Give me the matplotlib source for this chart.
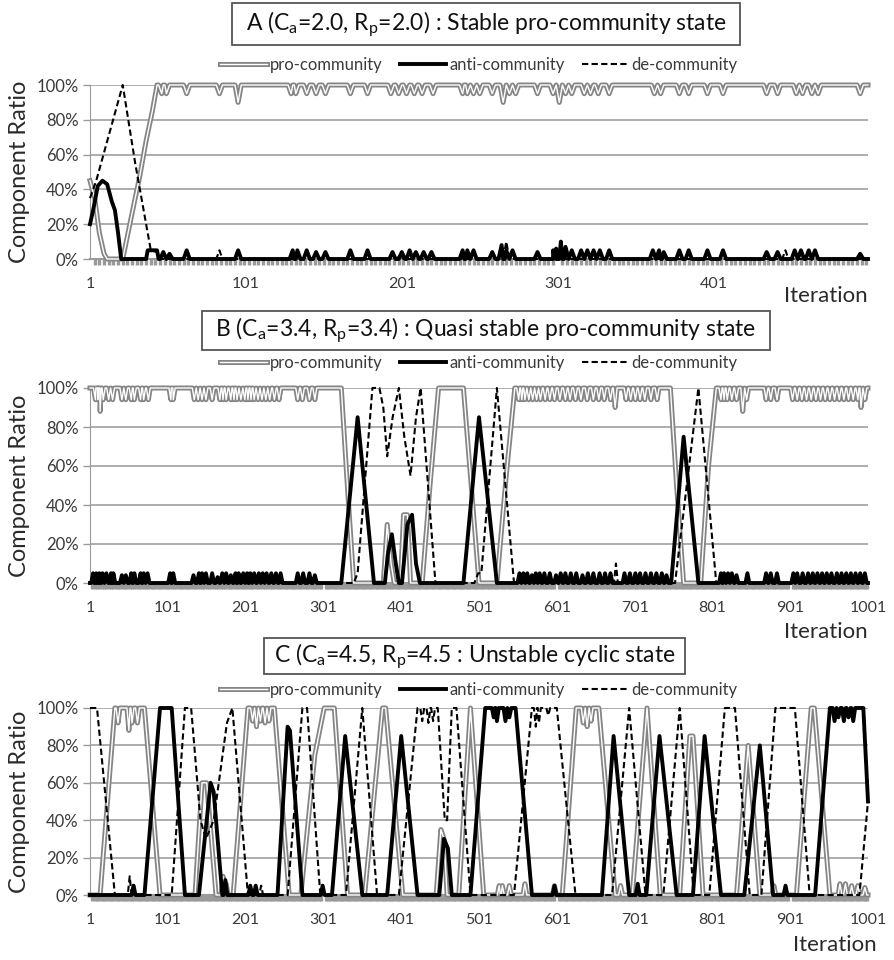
import matplotlib
matplotlib.use('Agg')
import matplotlib.pyplot as plt
from matplotlib.lines import Line2D
from matplotlib.patches import Rectangle
from matplotlib.ticker import MultipleLocator, FuncFormatter
from matplotlib.legend_handler import HandlerTuple

plt.rcParams['font.family'] = ['Lato', 'DejaVu Sans']
plt.rcParams['mathtext.fontset'] = 'custom'
plt.rcParams['mathtext.rm'] = 'Lato'
plt.rcParams['mathtext.it'] = 'Lato:italic'

# ---------------- data (component ratio in %, keypoints) ----------------
titles = [r'A (C$_{\mathrm{a}}$=2.0, R$_{\mathrm{p}}$=2.0) : Stable pro-community state',
          r'B (C$_{\mathrm{a}}$=3.4, R$_{\mathrm{p}}$=3.4) : Quasi stable pro-community state',
          r'C (C$_{\mathrm{a}}$=4.5, R$_{\mathrm{p}}$=4.5 : Unstable cyclic state']
series_names = ['pro-community', 'anti-community', 'de-community']

# panel A : 500 iterations
A_pro = [(1, 45), (4, 35), (7, 15), (10, 3), (12, 0), (22, 0), (27, 22), (33, 48), (37, 68), (41, 85), (44, 100), (500, 100)]
A_pro_dips = [(47, 95), (50, 95), (63, 95), (84, 95), (96, 90), (130, 95), (133, 95), (140, 95), (146, 95),
              (152, 95), (168, 95), (179, 95), (194, 95), (199, 95), (204, 95), (209, 95), (214, 95), (221, 95),
              (240, 95), (243, 95), (247, 95), (251, 95), (259, 95), (266, 90), (270, 95), (274, 95), (288, 95),
              (298, 95), (302, 90), (306, 95), (310, 95), (318, 95), (322, 95), (327, 95), (334, 95), (363, 95),
              (367, 95), (379, 95), (385, 95), (397, 95), (407, 95), (435, 95), (442, 95), (454, 95), (458, 95),
              (464, 95), (468, 95), (495, 95)]
A_anti = [(1, 20), (3, 28), (6, 42), (9, 45), (12, 43), (15, 33), (17, 28), (19, 15), (21, 0), (37, 0),
          (38, 5), (44, 5), (45, 0), (500, 0)]
A_anti_bumps = [(48, 4), (52, 3), (63, 5), (96, 5), (131, 5), (134, 5), (140, 5), (146, 4), (152, 4), (168, 5),
                (179, 5), (195, 4), (201, 4), (206, 5), (210, 4), (215, 4), (220, 4), (240, 5), (243, 5),
                (247, 5), (259, 4), (265, 8), (268, 5), (272, 5), (288, 4), (298, 5), (300, 6), (303, 10),
                (306, 7), (310, 5), (316, 5), (320, 5), (324, 5), (328, 5), (334, 5), (362, 5), (366, 5),
                (369, 4), (379, 5), (385, 5), (397, 5), (407, 5), (435, 4), (442, 4), (453, 5), (457, 5),
                (462, 5), (466, 5), (495, 3)]
A_de = [(1, 35), (5, 45), (22, 100), (30, 55), (40, 5), (44, 4), (46, 0), (500, 0)]
A_de_bumps = [(84, 5), (200, 3), (268, 10), (447, 5)]

# panel B : 1001 iterations
B_pro = [(1, 100), (324, 100), (331, 55), (340, 0), (378, 0), (383, 30), (388, 10), (392, 0), (400, 0),
         (404, 35), (409, 35), (413, 0), (428, 0), (438, 50), (449, 100), (481, 100), (491, 50), (501, 0),
         (524, 0), (536, 55), (547, 100), (747, 100), (755, 50), (764, 0), (786, 0), (796, 60), (806, 100),
         (1001, 100)]
B_pro_dips = [(8, 94), (11, 94), (14, 88), (18, 94), (25, 94), (30, 94), (42, 94), (47, 94), (54, 94),
              (58, 94), (66, 94), (70, 94), (76, 94), (105, 94), (108, 94), (135, 94), (140, 94), (145, 94),
              (150, 94), (158, 94), (168, 94), (172, 94), (176, 94), (182, 94), (186, 94), (190, 94), (195, 94),
              (200, 94), (204, 94), (208, 94), (212, 94), (217, 94), (222, 94), (227, 94), (232, 94), (238, 94),
              (244, 94), (268, 94), (274, 94), (283, 94), (290, 94),
              (552, 94), (556, 94), (560, 94), (565, 94), (570, 94), (575, 94), (580, 94), (586, 94), (592, 94),
              (598, 94), (605, 94), (612, 94), (618, 94), (625, 94), (632, 94), (640, 94), (648, 94), (655, 94),
              (662, 94), (670, 94), (676, 90), (690, 94), (696, 94), (702, 94), (708, 94), (714, 94), (722, 94),
              (730, 94),
              (812, 94), (816, 94), (820, 94), (826, 94), (832, 94), (840, 88), (845, 94), (870, 94), (876, 94),
              (884, 94), (904, 94), (910, 94), (916, 94), (922, 94), (928, 94), (934, 94), (940, 94), (946, 94),
              (952, 94), (958, 94), (964, 94), (970, 94), (976, 94), (982, 94), (988, 94), (992, 90), (997, 94)]
B_anti = [(1, 0), (324, 0), (345, 85), (366, 0), (380, 0), (384, 15), (389, 25), (394, 10), (398, 0), (402, 0),
          (409, 30), (415, 35), (420, 10), (425, 0), (481, 0), (501, 85), (524, 0), (748, 0), (764, 75),
          (783, 0), (1001, 0)]
B_anti_bumps = [(5, 5), (9, 5), (13, 5), (17, 5), (22, 5), (28, 5), (31, 5), (42, 4), (47, 4), (54, 5), (58, 5),
                (66, 5), (70, 5), (75, 5), (104, 5), (108, 5), (134, 4), (141, 5), (145, 5), (150, 5), (158, 5),
                (165, 3), (171, 5), (176, 5), (182, 4), (188, 5), (192, 5), (198, 5), (203, 5), (207, 5),
                (212, 5), (218, 5), (223, 5), (228, 5), (234, 5), (240, 5), (246, 5), (268, 5), (275, 5),
                (283, 5), (290, 4), (553, 5), (558, 5), (563, 5), (569, 4), (574, 5), (579, 5), (585, 5),
                (592, 5), (600, 4), (606, 5), (612, 5), (619, 5), (626, 5), (634, 4), (641, 5), (648, 5),
                (656, 5), (663, 5), (670, 5), (688, 5), (695, 5), (702, 5), (708, 5), (715, 5), (722, 5),
                (729, 5), (736, 5), (742, 4), (812, 5), (816, 5), (821, 5), (826, 5), (832, 4), (846, 5),
                (870, 5), (876, 5), (884, 5), (905, 5), (910, 5), (917, 5), (924, 5), (930, 5), (936, 5),
                (942, 5), (948, 5), (954, 5), (961, 5), (967, 5), (973, 5), (979, 5), (985, 5), (991, 5),
                (997, 5)]
B_de = [(1, 0), (340, 0), (345, 5), (364, 100), (373, 100), (378, 90), (383, 65), (390, 85), (398, 100),
        (405, 75), (413, 55), (420, 85), (426, 100), (445, 0), (495, 0), (500, 5), (504, 5), (524, 100),
        (546, 0), (753, 0), (783, 100), (806, 0), (1001, 0)]
B_de_bumps = [(212, 4), (560, 4), (677, 10)]

# panel C : 1001 iterations
C_pro = [(1, 0), (14, 0), (33, 100), (71, 100), (91, 0), (136, 0), (145, 60), (151, 60), (163, 0), (185, 0),
         (204, 100), (238, 100), (257, 0), (272, 0), (290, 75), (302, 100), (315, 100), (332, 0), (354, 0),
         (377, 100), (381, 100), (403, 0), (446, 0), (452, 35), (456, 30), (460, 0), (475, 0), (490, 100),
         (507, 0), (608, 0), (626, 100), (655, 100), (676, 0), (698, 0), (717, 100), (734, 0), (759, 0),
         (772, 85), (776, 85), (789, 0), (832, 0), (847, 80), (862, 0), (909, 0), (928, 100), (932, 100),
         (952, 0), (1001, 0)]
C_pro_dips = [(37, 92), (51, 88), (55, 92), (62, 92), (210, 93), (215, 90), (220, 93), (226, 92), (231, 93),
              (635, 92), (640, 90), (645, 93)]
C_pro_bumps = [(172, 10), (176, 6), (527, 5), (531, 5), (540, 5), (560, 6), (598, 5), (683, 5), (880, 5),
               (965, 6), (972, 6), (980, 5), (988, 5), (997, 4)]
C_anti = [(1, 0), (71, 0), (91, 100), (106, 100), (123, 0), (141, 0), (156, 60), (160, 55), (171, 0), (242, 0),
          (255, 90), (258, 88), (274, 0), (312, 0), (329, 85), (351, 0), (383, 0), (401, 85), (422, 0),
          (450, 0), (456, 30), (461, 25), (466, 0), (490, 0), (509, 100), (548, 100), (569, 0), (659, 0),
          (674, 85), (694, 0), (716, 0), (733, 85), (755, 0), (776, 0), (791, 85), (812, 0), (842, 0),
          (862, 80), (879, 0), (933, 0), (952, 100), (995, 100), (1001, 50)]
C_anti_dips = [(520, 95), (524, 93), (535, 93), (540, 95), (958, 93), (963, 95), (970, 93), (976, 95), (982, 93)]
C_anti_bumps = [(57, 5), (175, 8), (207, 5), (214, 5), (300, 5), (598, 5), (705, 6), (895, 5)]
C_de = [(1, 100), (10, 100), (33, 0), (106, 0), (123, 100), (131, 100), (143, 40), (150, 30), (160, 40),
        (177, 92), (184, 100), (204, 0), (255, 0), (274, 100), (280, 100), (297, 0), (330, 0), (351, 100),
        (370, 0), (398, 0), (422, 100), (448, 100), (454, 60), (457, 40), (460, 40), (466, 100), (472, 100),
        (490, 0), (546, 0), (569, 100), (601, 100), (625, 0), (672, 0), (694, 100), (715, 0), (738, 0),
        (759, 100), (777, 0), (797, 0), (817, 100), (830, 100), (849, 0), (864, 0), (882, 100), (907, 100),
        (926, 0), (990, 0), (1001, 50)]
C_de_dips = [(428, 93), (436, 92), (442, 93), (574, 90), (578, 92), (590, 96)]
C_de_bumps = [(52, 10), (57, 6), (221, 5), (300, 4)]

x_ticks_A = [1, 101, 201, 301, 401]
x_ticks_BC = [1, 101, 201, 301, 401, 501, 601, 701, 801, 901, 1001]


def build(points, *groups, w=1.5):
    # add the small spikes (dips from the 100 level / bumps from 0) to the keypoints
    pts = list(points)
    for spikes, level in groups:
        for sx, sy in spikes:
            pts += [(sx - w, level), (sx, sy), (sx + w, level)]
    pts.sort()
    return [p[0] for p in pts], [p[1] for p in pts]


W, H = 894, 960
fig = plt.figure(figsize=(W / 100, H / 100), dpi=100)

PRO_C, PRO_W, PRO_IN = '#858585', 3.6, 1.0
ANTI_W = 2.8
DE_W, DE_DASH = 1.5, (0, (3.0, 1.6))
TXT = '#2a2a2a'


def fx(px):
    return px / W


def fy(py):
    return 1 - py / H


def panel(top, bottom, xmax, ticks, pro, anti, de, w):
    ax = fig.add_axes([fx(90), fy(bottom), fx(868 - 90), (bottom - top) / H])
    px, py = pro
    ax.plot(px, py, color=PRO_C, lw=PRO_W, clip_on=False, zorder=3)
    ax.plot(px, py, color='white', lw=PRO_IN, clip_on=False, zorder=3.1)
    ax.plot(*anti, color='black', lw=ANTI_W, clip_on=False, zorder=4)
    ax.plot(*de, color='black', lw=DE_W, ls=DE_DASH, clip_on=False, zorder=5)

    ax.set_xlim(1, xmax)
    ax.set_ylim(0, 100)
    ax.set_yticks(range(0, 101, 20))
    ax.yaxis.set_major_formatter(FuncFormatter(lambda v, p: f'{v:.0f}%'))
    ax.set_xticks(ticks)
    ax.xaxis.set_minor_locator(MultipleLocator(3, offset=1))
    ax.tick_params(axis='x', which='major', length=0, pad=13, labelsize=11.5, labelcolor='#3a3a3a')
    ax.tick_params(axis='x', which='minor', length=4, width=2.4, color='#9a9a9a', direction='out')
    ax.tick_params(axis='y', length=5, width=1, color='#9a9a9a', pad=3, labelsize=12, labelcolor='#3a3a3a')
    ax.yaxis.grid(True, color='#a0a0a0', lw=1.2, zorder=0)
    ax.set_axisbelow(True)
    for s in ['top', 'right']:
        ax.spines[s].set_visible(False)
    ax.spines['left'].set_color('#9a9a9a')
    ax.spines['bottom'].set_color('#9a9a9a')
    ax.spines['bottom'].set_linewidth(1.5)

    h_pro = (Line2D([], [], color=PRO_C, lw=PRO_W), Line2D([], [], color='white', lw=PRO_IN))
    h_anti = Line2D([], [], color='black', lw=ANTI_W)
    h_de = Line2D([], [], color='black', lw=DE_W, ls=DE_DASH)
    ax.legend([h_pro, h_anti, h_de], series_names, handler_map={tuple: HandlerTuple(ndivide=1)},
              loc='center', bbox_to_anchor=(0.5, 1 + w / (bottom - top)), ncol=3, frameon=False,
              fontsize=12, handlelength=2.8, handletextpad=0.2, columnspacing=1.0,
              labelcolor='#3a3a3a', borderaxespad=0)
    fig.text(fx(20), fy((top + bottom) / 2), 'Component Ratio', rotation=90, ha='center', va='center',
             fontsize=17, color=TXT)
    return ax


def title_box(x0, x1, y0, y1, text):
    fig.patches.append(Rectangle((fx(x0), fy(y1)), fx(x1 - x0), (y1 - y0) / H, transform=fig.transFigure,
                                 fill=False, edgecolor='#555555', lw=1.3))
    fig.text(fx((x0 + x1) / 2), fy((y0 + y1) / 2), text, ha='center', va='center', fontsize=16.5,
             color='#111111')


# panel A
panel(85, 259, 500, x_ticks_A,
      build(A_pro, (A_pro_dips, 100), w=2),
      build(A_anti, (A_anti_bumps, 0), w=2),
      build(A_de, (A_de_bumps, 0), w=2), 20)
title_box(232, 740, 3, 45, titles[0])
fig.text(fx(868), fy(296), 'Iteration', ha='right', va='center', fontsize=16, color=TXT)

# panel B
panel(388, 583, 1001, x_ticks_BC,
      build(B_pro, (B_pro_dips, 100), w=2.5),
      build(B_anti, (B_anti_bumps, 0), w=2.5),
      build(B_de, (B_de_bumps, 0), w=2.5), 25)
title_box(202, 770, 311, 350, titles[1])
fig.text(fx(868), fy(632), 'Iteration', ha='right', va='center', fontsize=16, color=TXT)

# panel C
panel(708, 895, 1001, x_ticks_BC,
      build(C_pro, (C_pro_dips, 100), (C_pro_bumps, 0), w=2.5),
      build(C_anti, (C_anti_dips, 100), (C_anti_bumps, 0), w=2.5),
      build(C_de, (C_de_dips, 100), (C_de_bumps, 0), w=2.5), 18)
title_box(264, 685, 638, 674, titles[2])
fig.text(fx(877), fy(945), 'Iteration', ha='right', va='center', fontsize=16, color=TXT)

fig.savefig('out.png', dpi=100)
